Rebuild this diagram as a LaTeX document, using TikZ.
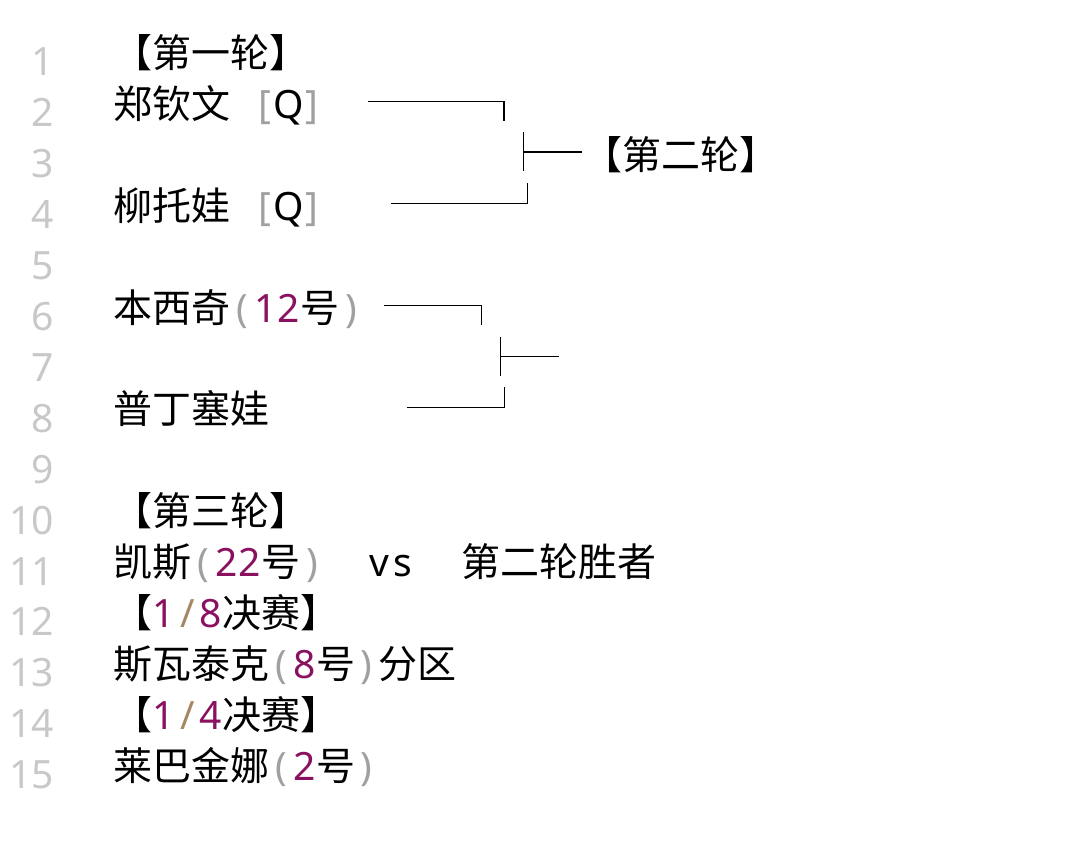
\documentclass[tikz,border=0pt]{standalone}
\usepackage{fontspec}
\setmainfont{Noto Sans CJK SC}
\newfontfamily\lat{Noto Sans}
\definecolor{numc}{RGB}{138,16,96}
\definecolor{slashc}{RGB}{165,135,100}
\definecolor{parc}{RGB}{160,160,160}
\definecolor{lnc}{RGB}{200,200,200}
\newcommand\hw[2][black]{\makebox[23.4pt]{\lat\color{#1}#2}}
\tikzset{
  txt/.style={anchor=base west, inner sep=0pt, font=\fontsize{39}{39}\selectfont},
  lnum/.style={anchor=base east, inner sep=0pt, text=lnc, font=\fontsize{39}{39}\selectfont\lat},
  brk/.style={line width=1.5pt, black}
}
\begin{document}
\begin{tikzpicture}[x=1pt,y=-1pt]
\useasboundingbox (0,0) rectangle (1079,856);
% line numbers
\foreach \i in {1,...,15}{
  \node[lnum] (ln\i) at (54,{76+50.9*(\i-1)}) {\i};
}
% text rows
\node[txt] (r1) at (113,67.5) {【第一轮】};
\node[txt] (r2) at (113,118.4) {郑钦文\hw{~}\hw[parc]{[}\hw{Q}\hw[parc]{]}};
\node[txt] (r4) at (113,220.2) {柳托娃\hw{~}\hw[parc]{[}\hw{Q}\hw[parc]{]}};
\node[txt] (r3) at (583,169.3) {【第二轮】};
\node[txt] (r6) at (113,322) {本西奇\hw[parc]{(}\hw[numc]{1}\hw[numc]{2}号\hw[parc]{)}};
\node[txt] (r8) at (113,423.8) {普丁塞娃};
\node[txt] (r10) at (113,525.6) {【第三轮】};
\node[txt] (r11) at (113,576.5) {凯斯\hw[parc]{(}\hw[numc]{2}\hw[numc]{2}号\hw[parc]{)}};
\node[txt] (vs) at (367.3,576.5) {\hw{v}\hw{s}};
\node[txt] (r11b) at (461,576.5) {第二轮胜者};
\node[txt] (r12) at (113,627.4) {【\hw[numc]{1}\hw[slashc]{/}\hw[numc]{8}决赛】};
\node[txt] (r13) at (113,678.3) {斯瓦泰克\hw[parc]{(}\hw[numc]{8}号\hw[parc]{)}分区};
\node[txt] (r14) at (113,729.2) {【\hw[numc]{1}\hw[slashc]{/}\hw[numc]{4}决赛】};
\node[txt] (r15) at (113,780.1) {莱巴金娜\hw[parc]{(}\hw[numc]{2}号\hw[parc]{)}};
% bracket 1
\coordinate (a1) at (368,101.7);
\coordinate (a2) at (504,101.7);
\coordinate (a3) at (504,120.7);
\coordinate (b1) at (523.3,131.7);
\coordinate (b2) at (523.3,171);
\coordinate (b3) at (523.3,152);
\coordinate (b4) at (581.7,152);
\coordinate (c1) at (391,203.3);
\coordinate (c2) at (527.3,203.3);
\coordinate (c3) at (527.3,183.3);
\draw[brk] (a1) -- (a2) -- (a3);
\draw[brk] (b1) -- (b2);
\draw[brk] (b3) -- (b4);
\draw[brk] (c1) -- (c2) -- (c3);
% bracket 2
\coordinate (d1) at (384,305.7);
\coordinate (d2) at (481.7,305.7);
\coordinate (d3) at (481.7,325);
\coordinate (e1) at (500.7,336.7);
\coordinate (e2) at (500.7,375.7);
\coordinate (e3) at (500.7,356.3);
\coordinate (e4) at (558.7,356.3);
\coordinate (f1) at (406.7,407.7);
\coordinate (f2) at (504.3,407.7);
\coordinate (f3) at (504.3,387.3);
\draw[brk] (d1) -- (d2) -- (d3);
\draw[brk] (e1) -- (e2);
\draw[brk] (e3) -- (e4);
\draw[brk] (f1) -- (f2) -- (f3);
\end{tikzpicture}
\end{document}
